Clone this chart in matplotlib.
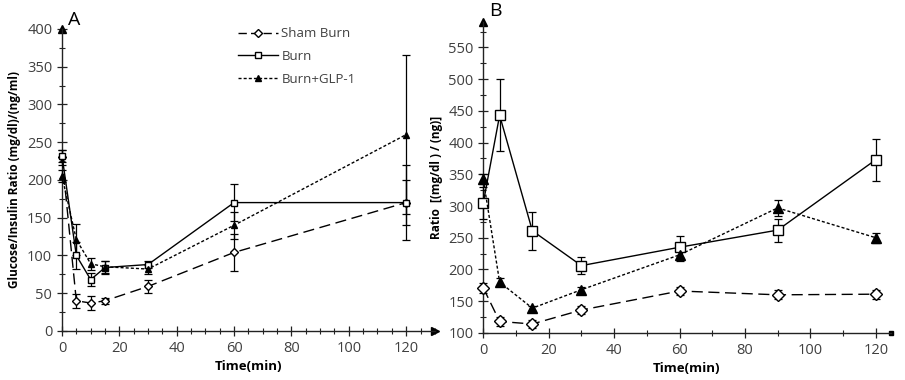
import matplotlib
matplotlib.use("Agg")
import matplotlib.pyplot as plt
from matplotlib.ticker import MultipleLocator
from matplotlib.lines import Line2D
import numpy as np

plt.rcParams['font.family'] = ['Open Sans', 'DejaVu Sans']

# ---------------- Panel A data ----------------
time_a = [0, 5, 10, 15, 30, 60, 120]
sham_a = [230, 40, 37, 40, 59, 104, 170]
sham_a_err = [10, 9, 9, 4, 9, 24, 30]
burn_a = [232, 100, 68, 84, 88, 170, 170]
burn_a_err = [8, 18, 9, 8, 5, 25, 50]
glp_a = [205, 121, 89, 85, 82, 140, 260]
glp_a_err = [8, 21, 8, 8, 6, 18, 105]

# ---------------- Panel B data ----------------
time_b = [0, 5, 15, 30, 60, 90, 120]
sham_b = [171, 118, 114, 136, 166, 160, 161]
sham_b_err = [8, 7, 7, 6, 7, 7, 7]
burn_b = [305, 443, 261, 206, 235, 262, 373]
burn_b_err = [25, 57, 30, 13, 17, 18, 33]
glp_b = [342, 180, 139, 168, 223, 297, 250]
glp_b_err = [8, 6, 4, 5, 10, 12, 8]

labels = ['Sham Burn', 'Burn', 'Burn+GLP-1']

fig = plt.figure(figsize=(9.05, 3.8), dpi=100)
axA = fig.add_axes([0.0685, 0.129, 0.412, 0.795])
axB = fig.add_axes([0.534, 0.124, 0.45, 0.818])

tick_color = '#404040'

def style(ax, xmax, ymin, ymax, xminor, ymajor, yminor):
    ax.set_xlim(0, xmax)
    ax.set_ylim(ymin, ymax)
    for s in ['top', 'right']:
        ax.spines[s].set_visible(False)
    for s in ['left', 'bottom']:
        ax.spines[s].set_color('#222222')
        ax.spines[s].set_linewidth(1.0)
    ax.xaxis.set_major_locator(MultipleLocator(20))
    ax.xaxis.set_minor_locator(MultipleLocator(xminor))
    ax.yaxis.set_major_locator(MultipleLocator(ymajor))
    ax.yaxis.set_minor_locator(MultipleLocator(yminor))
    ax.tick_params(which='major', direction='inout', length=7, width=0.9,
                   labelsize=10.5, labelcolor=tick_color, color='#222222')
    ax.tick_params(which='minor', direction='inout', length=5, width=0.8,
                   color='#222222')
    ax.set_xlabel('Time(min)', fontsize=9.5, fontweight='bold', labelpad=3)

def draw(ax, t, vals, errs, ls, marker, mfc, ms, dashes=None, lw=1.0):
    kw = dict(color='black', lw=lw, marker=marker, mfc=mfc, mec='black',
              ms=ms, capsize=3, elinewidth=0.9, capthick=0.9, ecolor='black',
              clip_on=False, zorder=3)
    eb = ax.errorbar(t, vals, yerr=errs, ls=ls, **kw)
    if dashes is not None:
        eb.lines[0].set_dashes(dashes)
    return eb

# Panel A
style(axA, 130, 0, 400, 5, 50, 25)
axA.set_yticks(np.arange(0, 401, 50))
draw(axA, time_a, sham_a, sham_a_err, '--', 'D', 'white', 4, dashes=(8, 4))
draw(axA, time_a, burn_a, burn_a_err, '-', 's', 'white', 5)
draw(axA, time_a, glp_a, glp_a_err, '--', '^', 'black', 5, dashes=(2.2, 1.5))
axA.set_ylabel('Glucose/Insulin Ratio (mg/dl)/(ng/ml)', fontsize=8.5,
               fontweight='bold', labelpad=4)
axA.plot([0], [1], marker='^', color='black', ms=6, transform=axA.transAxes, clip_on=False)
axA.plot([1], [0], marker='>', color='black', ms=6, transform=axA.transAxes, clip_on=False)
axA.text(0.015, 1.0, 'A', transform=axA.transAxes, fontsize=14, va='bottom')

h1 = Line2D([], [], color='black', lw=1, ls='--', dashes=(6, 3), marker='D', mfc='white', mec='black', ms=4)
h2 = Line2D([], [], color='black', lw=1, ls='-', marker='s', mfc='white', mec='black', ms=5)
h3 = Line2D([], [], color='black', lw=1, ls='--', dashes=(2.2, 1.5), marker='^', mfc='black', mec='black', ms=5)
axA.legend([h1, h2, h3], labels, loc='upper left', bbox_to_anchor=(0.44, 1.045),
           frameon=False, fontsize=9.5, handlelength=3.0, handletextpad=0.3,
           labelspacing=0.75, labelcolor=tick_color)

# Panel B
style(axB, 124.5, 100, 590, 10, 50, 25)
axB.set_yticks(np.arange(100, 551, 50))
draw(axB, time_b, sham_b, sham_b_err, '--', 'D', 'white', 6.5, dashes=(8, 4))
draw(axB, time_b, burn_b, burn_b_err, '-', 's', 'white', 6.5)
draw(axB, time_b, glp_b, glp_b_err, '--', '^', 'black', 6.5, dashes=(2.2, 1.5))
axB.set_ylabel('Ratio  [(mg/dl ) / (ng)]', fontsize=8.5, fontweight='bold', labelpad=4)
axB.plot([0], [1], marker='^', color='black', ms=6, transform=axB.transAxes, clip_on=False)
axB.plot([1], [0], marker='s', color='black', ms=3, transform=axB.transAxes, clip_on=False)
axB.text(0.015, 1.065, 'B', transform=axB.transAxes, fontsize=14, va='top')

fig.savefig('out.png', dpi=100)
